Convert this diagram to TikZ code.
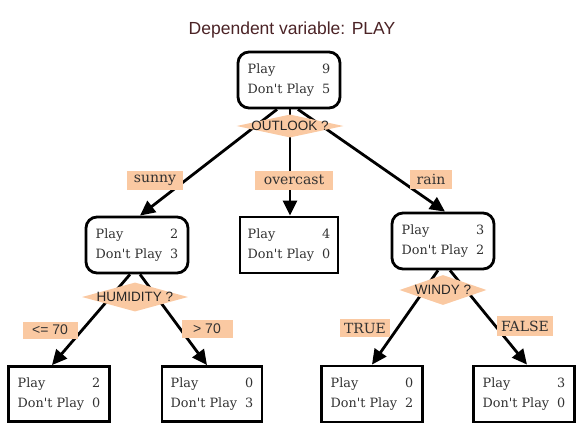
\documentclass[tikz,border=0pt]{standalone}
\usepackage{fontspec}
\setmainfont{DejaVu Serif}[Ligatures=TeXOff]
\setsansfont{Liberation Sans}
\usetikzlibrary{shapes.geometric,arrows.meta}
\definecolor{peach}{RGB}{250,201,162}
\definecolor{titlecol}{RGB}{75,35,38}
\definecolor{txt}{RGB}{50,50,50}
\newcommand{\playcounts}[2]{\begin{tabular}{@{}l@{\hspace{8pt}}r@{}}Play & #1\\[5pt] Don't Play & #2\end{tabular}}
\tikzset{
  roundbox/.style={draw=black, line width=2.8pt, rounded corners=11pt, fill=white, minimum width=102pt, minimum height=56pt, inner sep=0pt, text=txt, font=\fontsize{12.8}{15}\selectfont},
  sqbox/.style={draw=black, line width=2.8pt, fill=white, minimum width=101pt, minimum height=55pt, inner sep=0pt, text=txt, font=\fontsize{12.8}{15}\selectfont},
  question/.style={shape=diamond, fill=peach, inner sep=0pt, aspect=0.1, text=black!85, font=\sffamily\fontsize{13.5}{15}\selectfont},
  edgelab/.style={fill=peach, inner sep=0pt, minimum height=19pt, text=txt, font=\fontsize{14}{16}\selectfont},
  edgelabsf/.style={fill=peach, inner sep=0pt, minimum height=18pt, text=txt, font=\sffamily\fontsize{14}{16}\selectfont},
  arr/.style={line width=2.8pt, -{Triangle[length=15pt,width=14pt]}},
}
\begin{document}
\begin{tikzpicture}[x=1pt,y=-1pt]
\useasboundingbox (0,0) rectangle (582,431);
\node[text=titlecol, font=\sffamily\fontsize{17.5}{20}\selectfont] (title) at (292,30) {Dependent variable: PLAY};
% boxes
\node[roundbox] (root) at (289,80) {\playcounts{9}{5}};
\node[roundbox] (sunny) at (137,245) {\playcounts{2}{3}};
\node[sqbox, minimum width=98pt, minimum height=56pt] (over) at (289,245) {\playcounts{4}{0}};
\node[roundbox] (rain) at (443,241) {\playcounts{3}{2}};
\node[sqbox] (l1) at (59,394) {\playcounts{2}{0}};
\node[sqbox, minimum width=100pt] (l2) at (212,394) {\playcounts{0}{3}};
\node[sqbox, minimum height=56pt] (l3) at (372,394) {\playcounts{0}{2}};
\node[sqbox, minimum height=56pt] (l4) at (524,394) {\playcounts{3}{0}};
% connectors
\draw[arr] ([xshift=-12pt]root.south) -- ([xshift=3pt]sunny.north);
\draw[arr] ([xshift=1pt]root.south) -- ([xshift=1pt]over.north);
\draw[arr] ([xshift=9pt]root.south) -- ([xshift=2pt]rain.north);
\draw[arr] ([xshift=-7pt]sunny.south) -- ([xshift=-7pt]l1.north);
\draw[arr] ([xshift=3pt]sunny.south) -- ([xshift=-5pt]l2.north);
\draw[arr] ([xshift=-5pt]rain.south) -- ([xshift=0pt]l3.north);
\draw[arr] ([xshift=7pt]rain.south) -- ([xshift=3pt]l4.north);
% questions
\node[question, minimum width=107pt, minimum height=23pt] (q1) at (290,126) {\makebox[0pt]{OUTLOOK ?}};
\node[question, minimum width=106pt, minimum height=29pt] (q2) at (135,297) {\makebox[0pt]{HUMIDITY ?}};
\node[question, minimum width=87pt, minimum height=30pt] (q3) at (443,290) {\makebox[0pt]{WINDY ?}};
% edge labels
\node[edgelab, minimum width=56pt] (e1) at (155,180) {sunny};
\node[edgelab, minimum width=78pt] (e2) at (294,180) {overcast};
\node[edgelab, minimum width=42pt] (e3) at (431,179) {rain};
\node[edgelabsf, minimum width=55pt, minimum height=17pt] (e4) at (50,330) {<= 70};
\node[edgelabsf, minimum width=51pt] (e5) at (207,329) {> 70};
\node[edgelab, minimum width=50pt, minimum height=18pt] (e6) at (365,328) {TRUE};
\node[edgelab, minimum width=56pt, minimum height=20pt] (e7) at (525,326) {FALSE};
\end{tikzpicture}
\end{document}
